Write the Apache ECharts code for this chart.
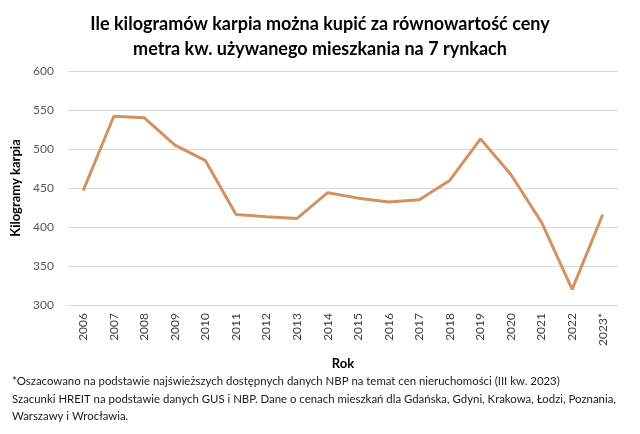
<!DOCTYPE html>
<html><head><meta charset="utf-8">
<script src="https://cdn.jsdelivr.net/npm/echarts@6/dist/echarts.min.js"></script>
<style>html,body{margin:0;padding:0;background:#fff}#c{width:640px;height:434px}</style>
</head><body><div id="c"></div>
<script>
const years = ['2006','2007','2008','2009','2010','2011','2012','2013','2014','2015','2016','2017','2018','2019','2020','2021','2022','2023*'];
const kgKarpia = [447,542,540,505,485,416,413,411,444,437,432,435,460,513,467,406,320,416];
const titleLines = ['Ile kilogramów karpia można kupić za równowartość ceny','metra kw. używanego mieszkania na 7 rynkach'];
const footnotes = [
  '*Oszacowano na podstawie najświeższych dostępnych danych NBP na temat cen nieruchomości (III kw. 2023)',
  'Szacunki HREIT na podstawie danych GUS i NBP. Dane o cenach mieszkań dla Gdańska, Gdyni, Krakowa, Łodzi, Poznania,',
  'Warszawy i Wrocławia.'
];
const font = 'Lato, "Noto Sans", sans-serif';
const chart = echarts.init(document.getElementById('c'));
chart.setOption({
  backgroundColor: '#fff',
  animation: false,
  title: {
    text: titleLines.join('\n'), left: 'center', top: 7,
    textStyle: {fontFamily: font, fontSize: 18, fontWeight: 'bold', color: '#000', lineHeight: 25}
  },
  grid: {left: 68, right: 22, top: 71, bottom: 129},
  xAxis: {
    type: 'category', data: years, boundaryGap: true,
    name: 'Rok', nameLocation: 'middle', nameGap: 52,
    nameTextStyle: {fontFamily: font, fontSize: 13, fontWeight: 'bold', color: '#000'},
    axisLine: {show: true, lineStyle: {color: '#d9d9d9'}},
    axisTick: {show: false},
    axisLabel: {rotate: 90, fontFamily: font, fontSize: 12, color: '#404040', margin: 8, interval: 0}
  },
  yAxis: {
    type: 'value', min: 300, max: 600, interval: 50,
    name: 'Kilogramy karpia', nameLocation: 'middle', nameGap: 45, nameRotate: 90,
    nameTextStyle: {fontFamily: font, fontSize: 13, fontWeight: 'bold', color: '#000'},
    axisLine: {show: false}, axisTick: {show: false},
    axisLabel: {fontFamily: font, fontSize: 12, color: '#595959', margin: 14},
    splitLine: {lineStyle: {color: '#d9d9d9', width: 1}}
  },
  series: [{
    type: 'line', data: kgKarpia, symbol: 'none',
    lineStyle: {color: '#D3925F', width: 3}
  }],
  graphic: footnotes.map((t, i) => ({
    type: 'text', left: 12, top: 376 + i * 17.5,
    style: {text: t, fontFamily: font, fontSize: 11.4, fill: '#1a1a1a'}
  }))
});
</script></body></html>
